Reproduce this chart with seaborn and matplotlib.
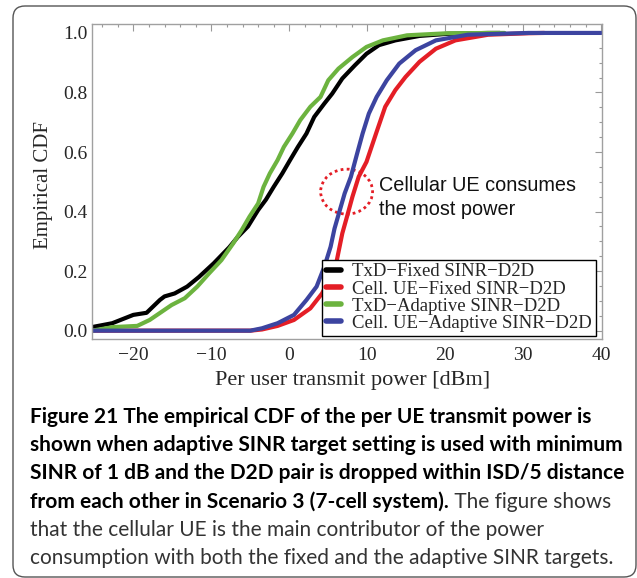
import matplotlib
matplotlib.use("Agg")
import matplotlib.pyplot as plt
from matplotlib.patches import Ellipse, FancyBboxPatch
from matplotlib.ticker import MultipleLocator
import seaborn as sns
import pandas as pd

# CDF curves (power in dBm, empirical CDF)
txd_fixed_x = [-25.3, -22.7, -20.0, -18.3, -16.6, -16.0, -14.7, -13.1, -11.6, -9.7, -7.7, -6.6, -5.3,
               -4.0, -3.0, -2.0, -0.9, 0.1, 1.1, 2.2, 3.2, 4.5, 5.5, 6.8, 8.4, 9.9, 11.5, 13.6,
               16.7, 20.3, 25.5, 27.0]
txd_fixed_y = [0.012, 0.025, 0.053, 0.06, 0.103, 0.115, 0.125, 0.148, 0.18, 0.226, 0.28, 0.315, 0.35,
               0.405, 0.44, 0.483, 0.528, 0.573, 0.617, 0.662, 0.718, 0.763, 0.796, 0.847, 0.891, 0.93,
               0.959, 0.975, 0.99, 0.997, 1.0, 1.0]

cell_fixed_x = [-25.3, -5.0, -3.5, -1.5, 0.6, 2.7, 4.2, 5.3, 6.1, 6.8, 7.4, 8.1, 8.9, 9.9, 11.2,
                12.3, 13.6, 14.9, 16.7, 18.8, 21.3, 25.5, 30.7, 32.7]
cell_fixed_y = [0.0, 0.0, 0.004, 0.016, 0.036, 0.075, 0.125, 0.181, 0.237, 0.327, 0.383, 0.45, 0.517,
                0.567, 0.668, 0.752, 0.808, 0.852, 0.903, 0.947, 0.975, 0.994, 0.999, 1.0]

txd_adapt_x = [-25.3, -22.6, -19.5, -17.9, -15.1, -13.4, -11.8, -10.3, -8.7, -7.2, -6.1, -5.1, -4.0,
               -3.3, -2.5, -1.5, -0.7, 0.4, 1.4, 2.7, 4.0, 5.0, 6.3, 8.1, 9.9, 12.0, 15.1, 20.3, 27.6]
txd_adapt_y = [0.0, 0.012, 0.016, 0.036, 0.086, 0.109, 0.148, 0.192, 0.237, 0.293, 0.338, 0.383, 0.427,
               0.483, 0.528, 0.573, 0.617, 0.662, 0.707, 0.752, 0.785, 0.841, 0.88, 0.919, 0.953,
               0.975, 0.992, 0.999, 1.0]

cell_adapt_x = [-25.3, -5.0, -3.5, -1.5, 0.6, 2.2, 3.5, 4.5, 5.3, 5.8, 7.1, 7.9, 8.7, 9.4, 10.2,
                11.2, 12.5, 14.1, 16.2, 18.8, 22.9, 30.7, 40.0]
cell_adapt_y = [0.0, 0.0, 0.008, 0.025, 0.053, 0.103, 0.148, 0.215, 0.282, 0.343, 0.461, 0.517, 0.595,
                0.662, 0.729, 0.785, 0.841, 0.897, 0.942, 0.975, 0.994, 1.0, 1.0]

series_names = ["TxD\u2212Fixed SINR\u2212D2D", "Cell. UE\u2212Fixed SINR\u2212D2D",
                "TxD\u2212Adaptive SINR\u2212D2D", "Cell. UE\u2212Adaptive SINR\u2212D2D"]
series_colors = ["#000000", "#e41e26", "#6cb33f", "#3c44a0"]

x_ticks = [-20, -10, 0, 10, 20, 30, 40]
y_ticks = [0.0, 0.2, 0.4, 0.6, 0.8, 1.0]

caption_bold = [
    "Figure 21 The empirical CDF of the per UE transmit power is",
    "shown when adaptive SINR target setting is used with minimum",
    "SINR of 1 dB and the D2D pair is dropped within ISD/5 distance",
    "from each other in Scenario 3 (7-cell system).",
]
caption_rest = [
    " The figure shows",
    "that the cellular UE is the main contributor of the power",
    "consumption with both the fixed and the adaptive SINR targets.",
]

frames = []
for name, xs, ys in zip(series_names,
                        [txd_fixed_x, cell_fixed_x, txd_adapt_x, cell_adapt_x],
                        [txd_fixed_y, cell_fixed_y, txd_adapt_y, cell_adapt_y]):
    frames.append(pd.DataFrame({"power": xs, "cdf": ys, "series": name}))
df = pd.concat(frames, ignore_index=True)

sns.set_style("white")
serif = ["Liberation Serif", "DejaVu Serif"]

fig = plt.figure(figsize=(6.37, 5.78), dpi=100)
W, H = 637, 578
ax = fig.add_axes([92 / W, (H - 339) / H, (602 - 92) / W, (339 - 24) / H])

sns.lineplot(data=df, x="power", y="cdf", hue="series", hue_order=series_names,
             palette=series_colors, sort=False, estimator=None, linewidth=3,
             legend=False, ax=ax)

ax.set_xlim(-25.3, 40.1)
ax.set_ylim(-0.028, 1.03)
ax.set_xticks(x_ticks)
ax.set_yticks(y_ticks)
ax.set_xticklabels([f"{t:g}".replace("-", "\u2212") for t in x_ticks], fontfamily=serif, fontsize=14)
ax.set_yticklabels([f"{t:.1f}" for t in y_ticks], fontfamily=serif, fontsize=14)
ax.xaxis.set_minor_locator(MultipleLocator(2))
ax.yaxis.set_minor_locator(MultipleLocator(0.05))
ax.tick_params(which="both", direction="in", top=True, right=True, color="#999999", width=0.8)
ax.tick_params(which="major", length=5)
ax.tick_params(which="minor", length=2.5)
ax.tick_params(axis="y", pad=3)
ax.tick_params(axis="x", pad=6)
for sp in ax.spines.values():
    sp.set_color("#a0a0a0")
    sp.set_linewidth(1)

ax.set_xlabel("Per user transmit power [dBm]", fontfamily=serif, fontsize=16)
ax.set_ylabel("Empirical CDF", fontfamily=serif, fontsize=15)
ax.xaxis.set_label_coords(0.51, -0.1)
ax.yaxis.set_label_coords(-0.077, 0.489)

leg = ax.legend(handles=ax.lines[:4], labels=series_names, loc="lower right",
                bbox_to_anchor=(0.988, 0.011), borderaxespad=0, fancybox=False,
                edgecolor="black", framealpha=1, prop={"family": serif, "size": 13.5},
                handlelength=0.8, handletextpad=0.6, labelspacing=0.0, borderpad=0.2)
leg.get_frame().set_linewidth(1)
for ln in leg.get_lines():
    ln.set_linewidth(4)

# annotation: dotted circle + note
ax.add_patch(Ellipse((7.35, 0.467), 6.66, 0.151, fill=False, edgecolor="#e41e26",
                     linewidth=2, linestyle=(0, (1, 1.2))))
ax.text(11.45, 0.447, "Cellular UE consumes\nthe most power", fontfamily="Liberation Sans",
        fontsize=14.3, ha="left", va="center", linespacing=1.3, color="#111111")

# rounded frame around figure + caption
fig.add_artist(FancyBboxPatch((0.13, 0.01), 6.23, 5.71, boxstyle="round,pad=0,rounding_size=0.12",
                              transform=fig.dpi_scale_trans, fill=False, edgecolor="#555555",
                              linewidth=1))

cap_font = ["Lato", "DejaVu Sans"]
cap_size = 15
y0, dy = 417, 28.2
last = None
for i, line in enumerate(caption_bold):
    last = fig.text(30 / W, 1 - (y0 + i * dy) / H, line, fontfamily=cap_font, fontsize=cap_size,
                    fontweight="bold", ha="left", va="center", color="black")
fig.text(0, 0, caption_rest[0], fontfamily=cap_font, fontsize=cap_size, color="#333333",
         ha="left", va="bottom", transform=last.get_transform())
fig.texts[-1].remove()
ax.annotate(caption_rest[0], xy=(1, 0), xycoords=last, fontfamily=cap_font, fontsize=cap_size,
            color="#333333", ha="left", va="bottom", annotation_clip=False)
for j, line in enumerate(caption_rest[1:]):
    fig.text(30 / W, 1 - (y0 + (4 + j) * dy) / H, line, fontfamily=cap_font, fontsize=cap_size,
             ha="left", va="center", color="#333333")

fig.savefig("out.png", dpi=100)
